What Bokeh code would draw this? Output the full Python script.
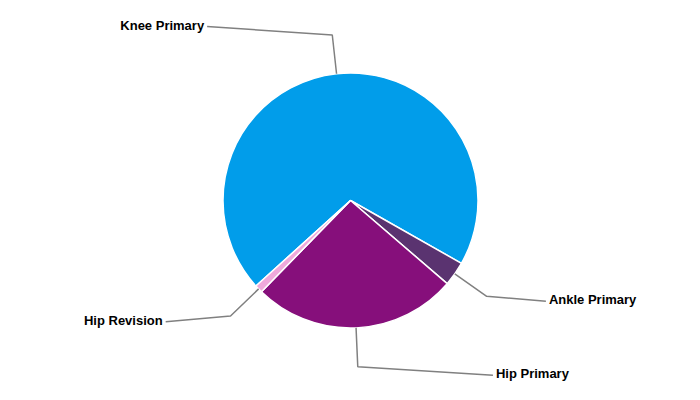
import math
from bokeh.plotting import figure
from bokeh.models import Range1d, ColumnDataSource
from bokeh.core.properties import value
from bokeh.embed import file_html
from bokeh.resources import INLINE

# ---- data ----
categories = ["Knee Primary", "Ankle Primary", "Hip Primary", "Hip Revision"]
shares = [69.9, 3.1, 26.0, 1.0]
colors = ["#019DEA", "#5A3370", "#860F7B", "#F0A9DB"]

# ---- layout ----
W, H = 684, 384
CX, CY = 350, 200       # pie centre in figure pixels (from top-left)
R = 127.5               # pie radius (px)
START = 137.9           # screen angle (deg, clockwise from 3 o'clock) of first slice
BEND = 39               # connector radial length
LAB_RY = 175            # vertical radius for label placement
LAB_A, LAB_B = 220, 233 # ellipse for label x placement
GAP = 3
TEXT_DY = 1.5           # text sits slightly above connector end

p = figure(width=W, height=H, output_backend="svg", toolbar_location=None,
           x_range=Range1d(-CX, W - CX), y_range=Range1d(CY - H, CY),
           min_border=0)
p.axis.visible = False
p.grid.visible = False
p.outline_line_color = None
p.background_fill_color = "white"

total = sum(shares)
starts, ends, mids = [], [], []
a = START
for s in shares:
    span = s / total * 360.0
    starts.append(a)
    ends.append(a + span)
    mids.append(a + span / 2)
    a += span

src = ColumnDataSource(dict(
    cat=categories, color=colors,
    start=[-math.radians(v) for v in starts],
    end=[-math.radians(v) for v in ends],
))
p.wedge(x=0, y=0, radius=R, start_angle="start", end_angle="end",
        direction="clock", fill_color="color", line_color="white",
        line_width=1.5, source=src)

lx, ly, tx, ty, aligns = [], [], [], [], []
for cat, m in zip(categories, mids):
    t = math.radians(m)
    c, s = math.cos(t), math.sin(t)
    x0, y0 = R * c, -R * s
    x1, y1 = (R + BEND) * c, -(R + BEND) * s
    yl = -LAB_RY * s
    xo = LAB_A * math.sqrt(max(0.0, 1 - (yl / LAB_B) ** 2))
    if c < 0:
        xl = -xo
        xe = xl + GAP
        aligns.append("right")
    else:
        xl = xo
        xe = xl - GAP
        aligns.append("left")
    lx.append([x0, x1, xe])
    ly.append([y0, y1, yl])
    tx.append(xl)
    ty.append(yl + TEXT_DY)

p.multi_line(xs=lx, ys=ly, line_color="#808080", line_width=1.5)
p.text(x=tx, y=ty, text=categories, text_align=aligns, text_baseline="middle",
       text_font=value("Liberation Sans"), text_font_style="bold",
       text_font_size="13px", text_color="black")

open("out.html", "w").write(file_html(p, INLINE))
